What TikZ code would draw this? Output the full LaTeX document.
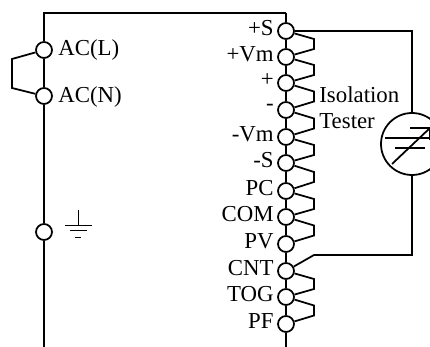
\documentclass[tikz,border=0pt]{standalone}
\usepackage{xcolor}
\usepackage{tikz}
\usepackage{fontspec}
\usetikzlibrary{calc}
\setmainfont{Liberation Serif}
\tikzset{
  terminal/.style={draw, circle, line width=1pt, inner sep=0pt, minimum size=0.32cm},
  wire/.style={line width=1pt},
  thinwire/.style={line width=0.4pt},
  lbl/.style={inner sep=0pt, font=\fontsize{13}{15}\selectfont},
}
\begin{document}
\begin{tikzpicture}[x=0.02cm,y=-0.02cm]
                \useasboundingbox (0,0) rectangle (430,347);
                \node[terminal] (acl) at (44,50) {};
                \node[terminal] (acn) at (44,96) {};
                \node[terminal] (gnd) at (44,232) {};
                \node[lbl, anchor=west] (lacl) at (58,50) {AC(L)};
                \node[lbl, anchor=west] (lacn) at (58,97) {AC(N)};
                \coordinate (topl) at (44,13);
                \coordinate (topr) at (286,13);
                \coordinate (botl) at (44,347);
                \coordinate (botr) at (286,347);
                \coordinate (jl1) at (12,59);
                \coordinate (jl2) at (12,88);
                \draw[wire] (acl) -- (jl1) -- (jl2) -- (acn);
                \draw[wire] (acl) -- (acn);
                \draw[wire] (acn) -- (gnd);
                \draw[wire] (gnd) -- (botl);
                \draw[wire] (acl) -- (topl) -- (topr);
                \foreach \nm/\ypos/\txt in {s1/31/+S, vm1/57/+Vm, p/83/+, m/110/-, vm2/137/-Vm, s2/163/-S, pc/191/PC, com/217/COM, pv/244/PV, cnt/271/CNT, tog/297/TOG, pf/324/PF}
                {
                  \node[terminal] (\nm) at (286,\ypos) {};
                  \node[lbl, anchor=east] (l\nm) at (274,\ypos-3) {\txt};
                }
                \draw[wire] (topr) -- (s1);
                \foreach \a/\b in {s1/vm1, vm1/p, p/m, m/vm2, vm2/s2, s2/pc, pc/com, com/pv, pv/cnt, cnt/tog, tog/pf}
                  \draw[wire] (\a) -- (\b);
                \draw[wire] (pf) -- (botr);
                \foreach \a/\b in {s1/vm1, vm1/p, p/m, m/vm2, vm2/s2, s2/pc, pc/com, com/pv, cnt/tog, tog/pf}
                  \draw[wire] (\a) -- ($(\a)!0.5!(\b)+(28,-5)$) -- ($(\a)!0.5!(\b)+(28,5)$) -- (\b);
                \node[lbl, anchor=west] (liso) at (319,95) {Isolation};
                \node[lbl, anchor=west] (ltes) at (319,121) {Tester};
                \node[draw, circle, line width=1pt, inner sep=0pt, minimum size=1.24cm] (tester) at (412,144) {};
                \coordinate (c1) at (412,31);
                \coordinate (c2) at (314,255);
                \coordinate (c3) at (412,255);
                \draw[wire] (s1) -- (c1) -- (tester);
                \draw[wire] (cnt) -- (c2) -- (c3) -- (tester);
                % tester symbol
                \coordinate (t1) at (385,138);
                \coordinate (t2) at (430,138);
                \coordinate (t3) at (395,148);
                \coordinate (t4) at (425,148);
                \coordinate (t5) at (392,164);
                \coordinate (t6) at (430,128);
                \coordinate (t7) at (410,128);
                \coordinate (t8) at (430,140);
                \draw[wire] (t1) -- (t2);
                \draw[wire] (t3) -- (t4);
                \draw[wire] (t5) -- (t6);
                \draw[wire] (t7) -- (t6) -- (t8);
                % ground
                \coordinate (g1) at (78,210);
                \coordinate (g2) at (78,225);
                \coordinate (g3) at (65,225);
                \coordinate (g4) at (92,225);
                \coordinate (g5) at (70,230);
                \coordinate (g6) at (87,230);
                \coordinate (g7) at (75,237);
                \coordinate (g8) at (81,237);
                \draw[thinwire] (g1) -- (g2);
                \draw[thinwire] (g3) -- (g4);
                \draw[thinwire] (g5) -- (g6);
                \draw[thinwire] (g7) -- (g8);
            \end{tikzpicture}
\end{document}
